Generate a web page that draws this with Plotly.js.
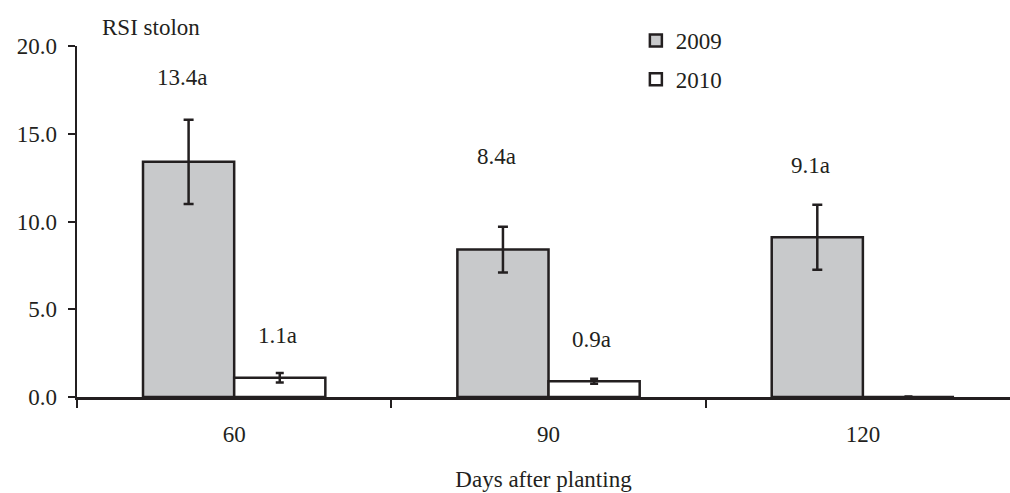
<!DOCTYPE html>
<html>
<head>
<meta charset="utf-8">
<script src="https://cdn.plot.ly/plotly-3.0.1.min.js"></script>
<style>html,body{margin:0;padding:0;background:#fff;overflow:hidden;}</style>
</head>
<body>
<div id="chart" style="width:1010px;height:493px;"></div>
<script>
const categories = ['60', '90', '120'];
const series2009 = [13.4, 8.4, 9.1];
const err2009 = [2.4, 1.3, 1.85];
const series2010 = [1.1, 0.9, 0];
const err2010 = [0.27, 0.14, 0.03];
const labels2009 = ['13.4a', '8.4a', '9.1a'];
const labels2010 = ['1.1a', '0.9a', ''];
const labelY2009 = [18.2, 13.7, 13.2];
const labelY2010 = [3.5, 3.3, 0];
const yTicks = [0, 5, 10, 15, 20];

const FONT = '"Liberation Serif", "Times New Roman", serif';
const INK = '#231f20';
const FS = 23;

const traces = [
  {
    type: 'bar', name: '2009', x: categories, y: series2009, legendgroup: 'a',
    marker: {color: '#c8c9cb', line: {color: INK, width: 2.5}},
    error_y: {type: 'data', array: err2009, visible: true, color: INK, thickness: 2.5, width: 5}
  },
  {
    type: 'bar', name: '2010', x: categories, y: series2010, legendgroup: 'b',
    marker: {color: '#ffffff', line: {color: INK, width: 2.5}},
    error_y: {type: 'data', array: err2010, visible: true, color: INK, thickness: 2.5, width: 4}
  }
];

const annotations = [];
categories.forEach((c, i) => {
  if (labels2009[i]) annotations.push({x: i, y: labelY2009[i], xref: 'x', yref: 'y', text: labels2009[i], showarrow: false, xshift: -52, font: {family: FONT, size: FS, color: INK}});
  if (labels2010[i]) annotations.push({x: i, y: labelY2010[i], xref: 'x', yref: 'y', text: labels2010[i], showarrow: false, xshift: 43, font: {family: FONT, size: FS, color: INK}});
});
annotations.push({x: 0.0795, y: 1.054, xref: 'paper', yref: 'paper', xanchor: 'center', yanchor: 'middle', text: 'RSI stolon', showarrow: false, font: {family: FONT, size: FS, color: INK}});

const layout = {
  width: 1010, height: 493,
  margin: {l: 77, r: 0, t: 46, b: 96},
  paper_bgcolor: '#fff', plot_bgcolor: '#fff',
  font: {family: FONT, size: FS, color: INK},
  barmode: 'group', bargap: 0.42, bargroupgap: 0,
  showlegend: true,
  legend: {x: 0.599, y: 1.077, xanchor: 'left', yanchor: 'top', traceorder: 'grouped', tracegroupgap: 6,
           bgcolor: 'rgba(0,0,0,0)', font: {family: FONT, size: FS, color: INK}, itemwidth: 30},
  xaxis: {
    type: 'category', range: [-0.5, 2.468], showgrid: false, zeroline: false,
    showline: true, linecolor: INK, linewidth: 2.5,
    ticks: 'outside', tickson: 'boundaries', ticklen: 8, tickwidth: 2, tickcolor: INK,
    ticklabelstandoff: 15,
    tickfont: {family: FONT, size: FS, color: INK},
    title: {text: 'Days after planting', font: {family: FONT, size: FS, color: INK}, standoff: 25}
  },
  yaxis: {
    range: [0, 20], tickvals: yTicks, ticktext: yTicks.map(v => v.toFixed(1)),
    showgrid: false, zeroline: false, showline: true, linecolor: INK, linewidth: 2.5,
    ticks: 'outside', ticklen: 7, tickwidth: 2, tickcolor: INK,
    ticklabelstandoff: 6,
    tickfont: {family: FONT, size: FS, color: INK}
  },
  annotations: annotations
};

Plotly.newPlot('chart', traces, layout, {displayModeBar: false, staticPlot: true});
</script>
</body>
</html>
